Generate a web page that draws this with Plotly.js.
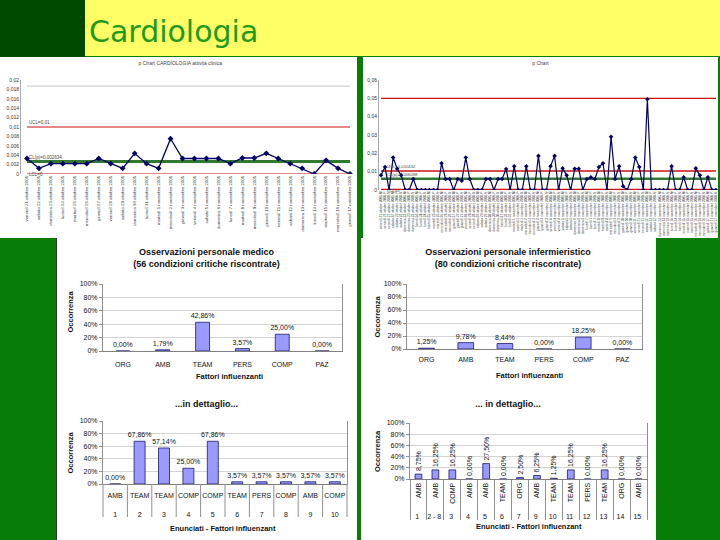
<!DOCTYPE html>
<html>
<head>
<meta charset="utf-8">
<script src="https://cdn.plot.ly/plotly-3.0.1.min.js"></script>
<style>
body{margin:0;padding:0;background:#077d07;}
#slide{position:relative;width:720px;height:540px;background:#077d07;overflow:hidden;}
.blk{position:absolute;}
</style>
</head>
<body>
<div id="slide">
  <div class="blk" style="left:0;top:0;width:85px;height:57px;background:#004a00"></div>
  <div class="blk" style="left:85px;top:0;width:635px;height:56px;background:#ffff66"></div>
  <div class="blk" style="left:89px;top:14px;font-family:'DejaVu Sans',sans-serif;font-size:30px;color:#1f9a1f;">Cardiologia</div>
  <div class="blk" style="left:0;top:57px;width:357px;height:181px;background:#fff"></div>
  <div class="blk" style="left:363px;top:57px;width:355px;height:181px;background:#fff"></div>
  <div class="blk" style="left:56px;top:238px;width:300px;height:302px;background:#fff;border-left:1px solid #333"></div>
  <div class="blk" style="left:361px;top:238px;width:295px;height:302px;background:#fff"></div>
  <div class="blk" id="pLeft" style="left:0;top:57px;width:357px;height:181px;"></div>
  <div class="blk" id="pRight" style="left:363px;top:57px;width:355px;height:181px;"></div>
  <div class="blk" id="barMed" style="left:57px;top:238px;width:299px;height:152px;"></div>
  <div class="blk" id="barNur" style="left:361px;top:238px;width:294px;height:152px;"></div>
  <div class="blk" id="detMed" style="left:57px;top:390px;width:299px;height:150px;"></div>
  <div class="blk" id="detNur" style="left:361px;top:390px;width:294px;height:150px;"></div>
</div>
<script>
// ---------- DATA ----------
const docDates = [
  "venerdì 21 ottobre 2005","sabato 22 ottobre 2005","domenica 23 ottobre 2005","lunedì 24 ottobre 2005",
  "martedì 25 ottobre 2005","mercoledì 26 ottobre 2005","giovedì 27 ottobre 2005","venerdì 28 ottobre 2005",
  "sabato 29 ottobre 2005","domenica 30 ottobre 2005","lunedì 31 ottobre 2005","martedì 1 novembre 2005",
  "mercoledì 2 novembre 2005","giovedì 3 novembre 2005","venerdì 4 novembre 2005","sabato 5 novembre 2005",
  "domenica 6 novembre 2005","lunedì 7 novembre 2005","martedì 8 novembre 2005","mercoledì 9 novembre 2005",
  "giovedì 10 novembre 2005","venerdì 11 novembre 2005","sabato 12 novembre 2005","domenica 13 novembre 2005",
  "lunedì 14 novembre 2005","martedì 15 novembre 2005","mercoledì 16 novembre 2005","giovedì 17 novembre 2005"
];
const docP = [0.0033,0.0012,0.0022,0.0022,0.0022,0.0022,0.0033,0.0022,0.0012,0.0044,
              0.0022,0.0012,0.0075,0.0033,0.0033,0.0033,0.0033,0.0022,0.0034,0.0034,
              0.0044,0.0033,0.0022,0.0012,0,0.0029,0.0012,0];
const docUCL = 0.01, docCL = 0.002634, docLCL = 0, docTop = 0.0187;

const shifts = ["M","P","N"];
const nurP = [0.008,0.0125,0,0.0177,0.0116,0.008,0,0,0.006,0,
              0,0,0,0,0,0.0146,0.006,0.006,0,0.006,
              0.005,0.0177,0.006,0,0,0,0.006,0.006,0,0.006,
              0.006,0.0115,0,0.013,0,0,0.013,0,0,0.0186,
              0,0,0.013,0.0186,0,0.0118,0.008,0,0.0116,0.0116,
              0,0.006,0.007,0.006,0.0125,0.0146,0,0.029,0.006,0.013,
              0.002,0,0.006,0.0177,0.0125,0,0.0495,0,0,0,
              0,0,0.013,0,0,0.007,0,0,0.0118,0.008,
              0,0.007,0,0];
const nurUCL = 0.0104, nurCL = 0.0061, nurLCL = 0, nurLimit = 0.05;

const factors = ["ORG","AMB","TEAM","PERS","COMP","PAZ"];
const medPct = [0, 1.79, 42.86, 3.57, 25.00, 0];
const nurPct = [1.25, 9.78, 8.44, 0, 18.25, 0];

const detMedNum = ["1","2","3","4","5","6","7","8","9","10"];
const detMedFac = ["AMB","TEAM","TEAM","COMP","COMP","TEAM","PERS","COMP","AMB","COMP"];
const detMedPct = [0, 67.86, 57.14, 25.00, 67.86, 3.57, 3.57, 3.57, 3.57, 3.57];

const detNurNum = ["1","2 - 8","3","4","5","6","7","9","10","11","12","13","14","15"];
const detNurFac = ["AMB","AMB","COMP","AMB","AMB","TEAM","ORG","AMB","TEAM","TEAM","PERS","TEAM","ORG","AMB"];
const detNurPct = [8.75,16.25,16.25,0,27.50,0,2.50,6.25,1.25,16.25,0,16.25,0,0];

// ---------- HELPERS ----------
const FONT = "Liberation Sans, Arial, sans-serif";
const cfg = {displayModeBar:false, staticPlot:true};
const pct = v => v.toFixed(2).replace(".", ",") + "%";
const navy = "#000066", red = "#cc1111", grn = "#2f7a2f";

function hline(x, val, color, width){
  return {x:x, y:x.map(()=>val), type:"scatter", mode:"lines",
          line:{color:color, width:width}, hoverinfo:"skip"};
}

// ---------- TOP LEFT p-chart ----------
(function(){
  const traces = [
    hline(docDates, docTop, "#c8c8c8", 1),
    hline(docDates, docUCL, red, 1.2),
    hline(docDates, docLCL, red, 1.2),
    hline(docDates, docCL, grn, 3),
    {x:docDates, y:docP, type:"scatter", mode:"lines+markers",
     line:{color:navy, width:1.3}, marker:{symbol:"diamond", size:4.5, color:navy}}
  ];
  const layout = {
    width:357, height:181, margin:{l:21, r:1, t:23, b:64},
    paper_bgcolor:"rgba(0,0,0,0)", plot_bgcolor:"rgba(0,0,0,0)",
    separators:",.", showlegend:false, font:{family:FONT, color:"#222"},
    title:{text:"p Chart CARDIOLOGIA attività clinica", font:{size:5, color:"#444"},
           x:0.505, xref:"container", xanchor:"center", y:0.965, yref:"container", yanchor:"middle"},
    xaxis:{type:"category", range:[-0.5, docDates.length-0.5], tickmode:"array",
           tickvals:docDates, ticktext:docDates, tickangle:-90, tickfont:{size:4.3, color:"#333"},
           showgrid:false, showline:false, zeroline:false, ticks:""},
    yaxis:{range:[0,0.02], dtick:0.002, tickfont:{size:5, color:"#333"}, showgrid:false,
           showline:true, linecolor:"#aaa", linewidth:1, zeroline:false, ticks:""},
    annotations:[
      {x:docDates[0], y:docUCL, text:"UCL=0,01", showarrow:false, xanchor:"left", yanchor:"bottom", font:{size:4.5,color:"#444"}},
      {x:docDates[0], y:docCL, text:"CL(p)=0,002634", showarrow:false, xanchor:"left", yanchor:"bottom", font:{size:4.5,color:"#444"}},
      {x:docDates[0], y:docLCL, text:"LCL=0", showarrow:false, xanchor:"left", yanchor:"middle", font:{size:4.5,color:"#444"}}
    ]
  };
  Plotly.newPlot("pLeft", traces, layout, cfg);
})();

// ---------- TOP RIGHT p-chart ----------
(function(){
  const nurLabels = docDates.flatMap(d => shifts.map(s => d + " " + s));
  const traces = [
    hline(nurLabels, nurLimit, red, 1.4),
    hline(nurLabels, nurUCL, red, 1.4),
    hline(nurLabels, nurLCL, red, 2.5),
    hline(nurLabels, nurCL, grn, 2.5),
    {x:nurLabels, y:nurP, type:"scatter", mode:"lines+markers",
     line:{color:navy, width:1.2}, marker:{symbol:"diamond", size:3.5, color:navy}}
  ];
  const layout = {
    width:355, height:181, margin:{l:16, r:0, t:23, b:48},
    paper_bgcolor:"rgba(0,0,0,0)", plot_bgcolor:"rgba(0,0,0,0)",
    separators:",.", showlegend:false, font:{family:FONT, color:"#222"},
    title:{text:"p Chart", font:{size:5, color:"#444"},
           x:0.5, xref:"container", xanchor:"center", y:0.965, yref:"container", yanchor:"middle"},
    xaxis:{type:"category", range:[-0.5, nurLabels.length-0.5], tickmode:"array",
           tickvals:nurLabels, ticktext:nurLabels, tickangle:-90, tickfont:{size:3.2, color:"#333"},
           showgrid:false, showline:false, zeroline:false, ticks:""},
    yaxis:{range:[0,0.06], dtick:0.01, tickfont:{size:5, color:"#333"}, showgrid:false,
           showline:true, linecolor:"#aaa", linewidth:1, zeroline:false, ticks:""},
    annotations:[
      {x:nurLabels[1], y:nurUCL, text:"UCL=0,010432", showarrow:false, xanchor:"left", yanchor:"bottom", font:{size:4.2,color:"#444"}},
      {x:nurLabels[1], y:nurCL, text:"CL(p)=0,006098", showarrow:false, xanchor:"left", yanchor:"bottom", font:{size:4.2,color:"#444"}},
      {x:nurLabels[1], y:nurLCL, text:"LCL=0", showarrow:false, xanchor:"left", yanchor:"middle", font:{size:4.2,color:"#444"}}
    ]
  };
  Plotly.newPlot("pRight", traces, layout, cfg);
})();

// ---------- BAR CHARTS ----------
function barChart(div, opt){
  const trace = {
    x:opt.x, y:opt.y, type:"bar", text:opt.y.map(pct), textposition:"outside",
    textangle:opt.textangle || 0, constraintext:"none", cliponaxis:false,
    textfont:{size:7, color:"#111", family:FONT},
    marker:{color:"#9999ff", line:{color:"#1a1a6e", width:0.8}}, hoverinfo:"skip"
  };
  const xaxis = {tickfont:{size:7, color:"#111"}, showline:true, linecolor:"#808080", linewidth:1,
                 ticks:"outside", ticklen:opt.ticklen, tickcolor:"rgba(0,0,0,0)", showgrid:false, zeroline:false};
  const shapes = [];
  if (opt.multi){
    xaxis.type = "multicategory";
    xaxis.showdividers = true; xaxis.dividercolor = "#909090"; xaxis.dividerwidth = 1;
    xaxis.tickangle = opt.tickangle || 0;
  }
  if (opt.rows){
    // two label rows (factor above, statement number below) with divider lines between categories
    xaxis.type = "category";
    xaxis.tickmode = "array";
    xaxis.tickvals = opt.x;
    xaxis.ticktext = opt.rows.map((f, i) => f + "<br><br>" + opt.x[i]);
    const n = opt.x.length;
    for (let i = 0; i <= n; i++){
      shapes.push({type:"line", xref:"paper", yref:"paper", x0:i/n, x1:i/n,
                   ysizemode:"pixel", yanchor:0, y0:0, y1:-33, line:{color:"#909090", width:1}});
    }
  }
  const layout = {
    width:opt.w, height:opt.h, margin:opt.m, bargap:opt.gap,
    paper_bgcolor:"rgba(0,0,0,0)", plot_bgcolor:"rgba(0,0,0,0)",
    showlegend:false, font:{family:FONT, color:"#111"},
    title:{text:opt.title, font:{size:9, color:"#111"}, x:0.5, xref:"container", xanchor:"center",
           y:opt.titleY, yref:"container", yanchor:"middle"},
    xaxis:xaxis, shapes:shapes,
    yaxis:{range:[0,100], dtick:20, ticksuffix:"%", tickfont:{size:7, color:"#111"},
           showgrid:true, gridcolor:"#d4d4d4", gridwidth:1, showline:true, linecolor:"#909090",
           mirror:true, ticks:"outside", ticklen:3, tickcolor:"#909090", zeroline:false},
    annotations:[
      {xref:"paper", yref:"paper", x:opt.xtX, y:0, yshift:opt.xtShift, text:"<b>"+opt.xtitle+"</b>",
       showarrow:false, xanchor:"center", yanchor:"middle", font:{size:7.5, color:"#111"}},
      {xref:"paper", yref:"paper", x:0, xshift:opt.ytShift, y:0.5, yshift:opt.ytY, text:"<b>Occorrenza</b>",
       textangle:-90, showarrow:false, xanchor:"center", yanchor:"middle", font:{size:7.5, color:"#111"}}
    ]
  };
  Plotly.newPlot(div, [trace], layout, cfg);
}

barChart("barMed", {x:factors, y:medPct, w:299, h:152, m:{l:46,r:14,t:46,b:39}, gap:0.65, ticklen:7,
  title:"<b>Osservazioni personale medico</b><br><b>(56 condizioni critiche riscontrate)</b>", titleY:0.885,
  xtitle:"Fattori influenzanti", xtX:0.53, xtShift:-25, ytShift:-33, ytY:6});

barChart("barNur", {x:factors, y:nurPct, w:294, h:152, m:{l:46,r:13,t:46,b:41}, gap:0.6, ticklen:4,
  title:"<b>Osservazioni personale infermieristico</b><br><b>(80 condizioni critiche riscontrate)</b>", titleY:0.885,
  xtitle:"Fattori influenzanti", xtX:0.52, xtShift:-26, ytShift:-30, ytY:0});

barChart("detMed", {x:detMedNum, rows:detMedFac, y:detMedPct, w:299, h:150, m:{l:46,r:9,t:31,b:56}, gap:0.55, ticklen:5,
  title:"<b>...in dettaglio...</b>", titleY:0.907,
  xtitle:"Enunciati - Fattori influenzant", xtX:0.49, xtShift:-44, ytShift:-33, ytY:0});

barChart("detNur", {x:[detNurNum, detNurFac], y:detNurPct, multi:true, textangle:-90, tickangle:-90, w:294, h:150, m:{l:49,r:8,t:33,b:61}, gap:0.6, ticklen:3,
  title:"<b>... in dettaglio...</b>", titleY:0.907,
  xtitle:"Enunciati - Fattori influenzant", xtX:0.5, xtShift:-47, ytShift:-33, ytY:0});
</script>
</body>
</html>
